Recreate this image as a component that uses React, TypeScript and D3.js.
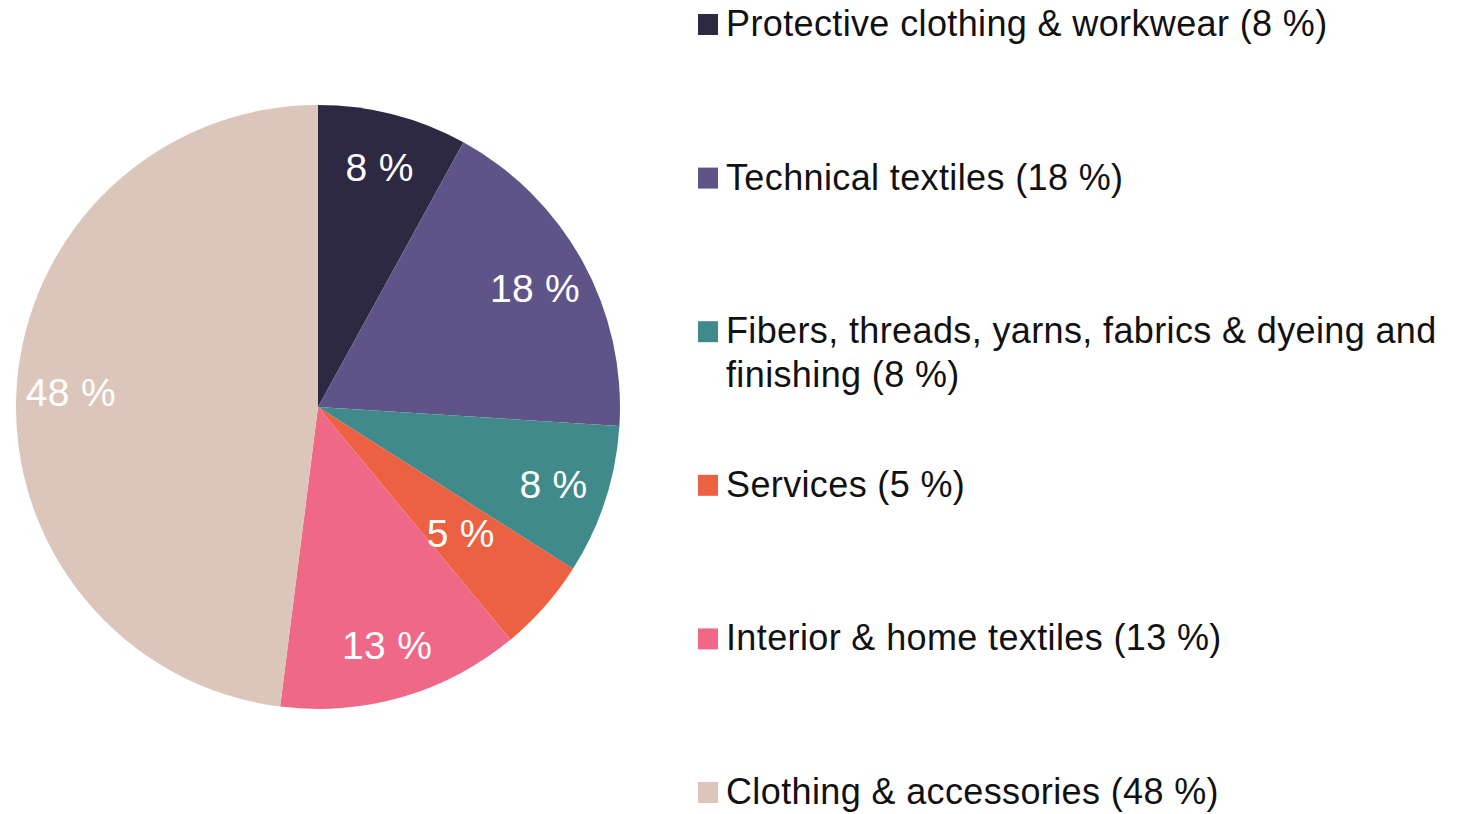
import React from "react";
import * as d3 from "d3";

const categories = [
  "Protective clothing & workwear",
  "Technical textiles",
  "Fibers, threads, yarns, fabrics & dyeing and finishing",
  "Services",
  "Interior & home textiles",
  "Clothing & accessories",
];
const values = [8, 18, 8, 5, 13, 48];
const legendLines = [
  ["Protective clothing & workwear (8 %)"],
  ["Technical textiles (18 %)"],
  ["Fibers, threads, yarns, fabrics & dyeing and", "finishing (8 %)"],
  ["Services (5 %)"],
  ["Interior & home textiles (13 %)"],
  ["Clothing & accessories (48 %)"],
];
const colors = ["#2E2943", "#5F5488", "#408A8B", "#EB6141", "#F06887", "#DCC5BA"];

const W = 1459;
const H = 814;
const FONT = "'Liberation Sans', Arial, sans-serif";

export default function App() {
  const cx = 318;
  const cy = 407;
  const R = 302;
  const pie = d3.pie<number>().sort(null).value((d) => d)(values);
  const arc = d3.arc<d3.PieArcDatum<number>>().innerRadius(0).outerRadius(R);
  const labelArc = d3
    .arc<d3.PieArcDatum<number>>()
    .innerRadius(R * 0.82)
    .outerRadius(R * 0.82);
  const smallLabelArc = d3
    .arc<d3.PieArcDatum<number>>()
    .innerRadius(R * 0.63)
    .outerRadius(R * 0.63);

  // baselines of the first line of each legend entry
  const legendY = d3
    .scaleLinear()
    .domain([0, categories.length - 1])
    .range([36, 804]);
  const fs = 36;

  return (
    <svg
      width={W}
      height={H}
      style={{ position: "absolute", left: 0, top: 0, background: "#fff" }}
    >
      <g transform={`translate(${cx},${cy})`}>
        {pie.map((d, i) => (
          <path key={i} d={arc(d) || ""} fill={colors[i]} />
        ))}
        {pie.map((d, i) => {
          const [x, y] = (values[i] < 6 ? smallLabelArc : labelArc).centroid(d);
          return (
            <text
              key={"l" + i}
              x={x}
              y={y}
              dy="0.36em"
              textAnchor="middle"
              fill="#fff"
              fontFamily={FONT}
              fontSize={39}
              letterSpacing={0.3}
            >
              {values[i]} %
            </text>
          );
        })}
      </g>
      <g>
        {legendLines.map((lines, i) => {
          const y = legendY(i);
          return (
            <g key={"lg" + i}>
              <rect x={698} y={y - 22} width={20} height={21} fill={colors[i]} />
              {lines.map((t, j) => (
                <text
                  key={j}
                  x={726}
                  y={y + j * 44}
                  fill="#111"
                  fontFamily={FONT}
                  fontSize={fs}
                  letterSpacing={0.37}
                >
                  {t}
                </text>
              ))}
            </g>
          );
        })}
      </g>
    </svg>
  );
}
